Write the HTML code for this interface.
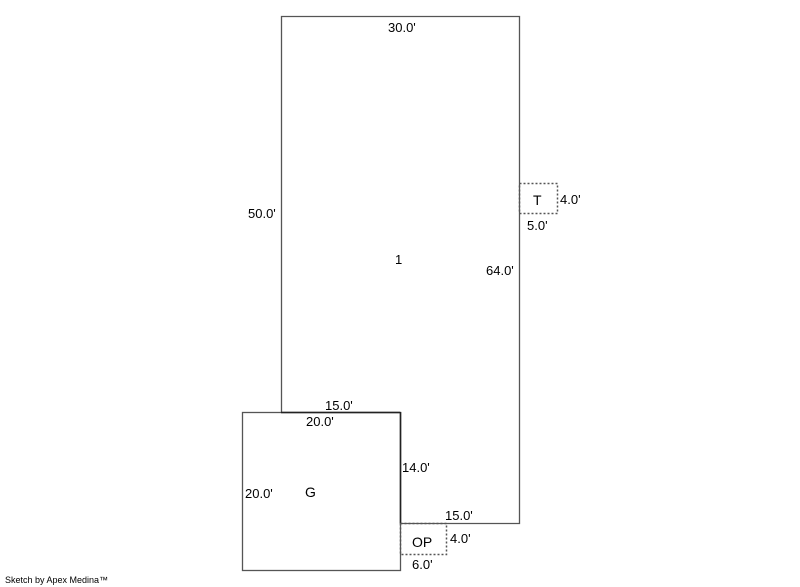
<!DOCTYPE html>
<html><head><style>
body{margin:0;background:#fff;width:800px;height:587px;overflow:hidden}
svg{display:block}
text{font-family:"Liberation Sans",Arial,sans-serif;font-size:13px;fill:#000}
</style></head><body>
<svg width="800" height="587" viewBox="0 0 800 587">
<g fill="none" stroke="#555" stroke-width="1.3">
<path d="M281.5 16.5H519.5V523.5H400.5V412.5H281.5Z"/>
<rect x="242.5" y="412.5" width="158" height="158"/>
</g>
<line x1="400.5" y1="412" x2="400.5" y2="523" stroke="#222" stroke-width="1.5"/>
<line x1="281" y1="412.5" x2="400" y2="412.5" stroke="#222" stroke-width="1.5"/>
<g fill="none" stroke="#555" stroke-width="1.5" stroke-dasharray="2,2">
<rect x="400.5" y="523.5" width="46" height="31"/>
<rect x="519.5" y="183.5" width="38" height="30"/>
</g>
<text x="388" y="32">30.0'</text>
<text x="248" y="218">50.0'</text>
<text x="395" y="264">1</text>
<text x="486" y="275">64.0'</text>
<text x="533" y="205" style="font-size:14px">T</text>
<text x="560" y="204">4.0'</text>
<text x="527" y="230">5.0'</text>
<text x="325" y="410">15.0'</text>
<text x="306" y="426">20.0'</text>
<text x="402" y="472">14.0'</text>
<text x="245" y="498">20.0'</text>
<text x="305" y="497" style="font-size:14px">G</text>
<text x="412" y="547" style="font-size:14px">OP</text>
<text x="445" y="520">15.0'</text>
<text x="450" y="543">4.0'</text>
<text x="412" y="569">6.0'</text>
<text x="5" y="583" style="font-size:9px">Sketch by Apex Medina™</text>
</svg>
</body></html>
